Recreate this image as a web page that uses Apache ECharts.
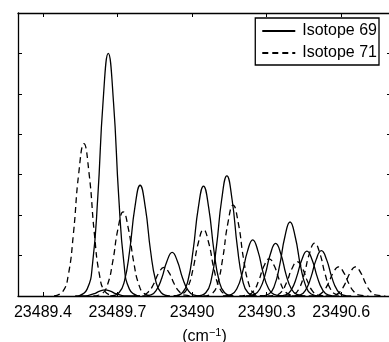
<!DOCTYPE html>
<html>
<head>
<meta charset="utf-8">
<script src="https://cdn.jsdelivr.net/npm/echarts@6.0.0/dist/echarts.min.js"></script>
<style>
  html, body { margin: 0; padding: 0; background: #fff; }
  #chart { width: 389px; height: 342px; }
</style>
</head>
<body>
<div id="chart"></div>
<script>
// tick labels on the wavenumber axis
var xTicks = [23489.4, 23489.7, 23490, 23490.3, 23490.6];

// each line is sampled at these offsets (cm^-1) from its centre
var sampleOffsets = [-0.12, -0.085, -0.063, -0.042, -0.021, 0, 0.021, 0.042, 0.063, 0.085, 0.12];

// Isotope 69 lines: centre and sampled heights
var centers69 = [23489.650, 23489.663, 23489.791, 23489.920, 23490.046, 23490.140,
                 23490.244, 23490.336, 23490.394, 23490.462, 23490.520];
var peaks69 = [
    [0, 0, 0.02, 0.06, 0.12, 0.15, 0.12, 0.06, 0.02, 0, 0],
    [0, 0.17, 0.81, 2.46, 4.8, 6.0, 4.8, 2.46, 0.81, 0.17, 0],
    [0, 0.08, 0.37, 1.12, 2.19, 2.74, 2.19, 1.12, 0.37, 0.08, 0],
    [0, 0.03, 0.15, 0.44, 0.86, 1.08, 0.86, 0.44, 0.15, 0.03, 0],
    [0, 0.08, 0.37, 1.12, 2.18, 2.72, 2.18, 1.12, 0.37, 0.08, 0],
    [0, 0.08, 0.4, 1.22, 2.38, 2.97, 2.38, 1.22, 0.4, 0.08, 0],
    [0, 0.04, 0.19, 0.57, 1.11, 1.39, 1.11, 0.57, 0.19, 0.04, 0],
    [0, 0.04, 0.18, 0.53, 1.04, 1.30, 1.04, 0.53, 0.18, 0.04, 0],
    [0, 0.05, 0.25, 0.75, 1.46, 1.83, 1.46, 0.75, 0.25, 0.05, 0],
    [0, 0.03, 0.15, 0.46, 0.89, 1.11, 0.89, 0.46, 0.15, 0.03, 0],
    [0, 0.03, 0.15, 0.46, 0.9, 1.12, 0.9, 0.46, 0.15, 0.03, 0]
];

// Isotope 71 lines
var centers71 = [23489.565, 23489.723, 23489.887, 23490.046, 23490.165,
                 23490.310, 23490.423, 23490.493, 23490.589, 23490.657];
var peaks71 = [
    [0, 0.11, 0.51, 1.55, 3.02, 3.77, 3.02, 1.55, 0.51, 0.11, 0],
    [0, 0.06, 0.28, 0.85, 1.66, 2.08, 1.66, 0.85, 0.28, 0.06, 0],
    [0, 0.02, 0.1, 0.29, 0.57, 0.71, 0.57, 0.29, 0.1, 0.02, 0],
    [0, 0.05, 0.22, 0.67, 1.31, 1.64, 1.31, 0.67, 0.22, 0.05, 0],
    [0, 0.06, 0.3, 0.92, 1.8, 2.25, 1.8, 0.92, 0.3, 0.06, 0],
    [0, 0.03, 0.12, 0.38, 0.74, 0.92, 0.74, 0.38, 0.12, 0.03, 0],
    [0, 0.02, 0.11, 0.35, 0.68, 0.85, 0.68, 0.35, 0.11, 0.02, 0],
    [0, 0.04, 0.18, 0.54, 1.05, 1.31, 1.05, 0.54, 0.18, 0.04, 0],
    [0, 0.02, 0.1, 0.3, 0.58, 0.72, 0.58, 0.3, 0.1, 0.02, 0],
    [0, 0.02, 0.1, 0.3, 0.58, 0.72, 0.58, 0.3, 0.1, 0.02, 0]
];

var FONT = 'Liberation Sans, Arial, Helvetica, sans-serif';

function lineSeries(name, center, heights, dash) {
    var pts = [];
    for (var i = 0; i < sampleOffsets.length; i++) {
        pts.push([center + sampleOffsets[i], heights[i]]);
    }
    return {
        name: name,
        type: 'line',
        smooth: true,
        symbol: 'none',
        silent: true,
        lineStyle: { color: '#000', width: 1.3, type: dash ? [6, 4] : 'solid' },
        itemStyle: { color: '#000' },
        data: pts
    };
}

var series = [];
for (var i = 0; i < centers69.length; i++) {
    series.push(lineSeries('Isotope 69', centers69[i], peaks69[i], false));
}
for (var j = 0; j < centers71.length; j++) {
    series.push(lineSeries('Isotope 71', centers71[j], peaks71[j], true));
}

var axisLine = { show: true, onZero: false, lineStyle: { color: '#000', width: 1.3 } };
var tickIn = { show: true, inside: true, length: 4, lineStyle: { color: '#000', width: 1 } };

var chart = echarts.init(document.getElementById('chart'));
chart.setOption({
    animation: false,
    backgroundColor: '#fff',
    grid: { left: 18, right: -2, top: 13, bottom: 46, outerBoundsMode: 'none', containLabel: false },
    legend: {
        data: ['Isotope 69', 'Isotope 71'],
        orient: 'vertical',
        right: 10,
        top: 18,
        padding: [4, 2, 3, 6],
        itemGap: 4,
        itemWidth: 33,
        itemHeight: 14,
        borderColor: '#000',
        borderWidth: 1.3,
        borderRadius: 0,
        backgroundColor: '#fff',
        selectedMode: false,
        itemStyle: { opacity: 0 },
        textStyle: { fontFamily: FONT, fontSize: 16, color: '#000', padding: [0, 0, 0, 2], lineHeight: 18 }
    },
    xAxis: [
        {
            type: 'value',
            min: 23489.3,
            max: 23490.8,
            position: 'bottom',
            name: '{a|(cm}{b|−1}{a|)}',
            nameLocation: 'middle',
            nameGap: 31,
            nameTextStyle: {
                rich: {
                    a: { fontFamily: FONT, fontSize: 16, color: '#000' },
                    b: { fontFamily: FONT, fontSize: 11, color: '#000', padding: [0, 0, 9, 0] }
                }
            },
            axisLine: axisLine,
            axisTick: { show: true, inside: true, length: 4, customValues: xTicks, lineStyle: { color: '#000' } },
            axisLabel: {
                customValues: xTicks,
                fontFamily: FONT, fontSize: 16, color: '#000', margin: 9,
                formatter: function (v) { return String(v); }
            },
            splitLine: { show: false }
        },
        {
            type: 'value',
            min: 23489.3,
            max: 23490.8,
            position: 'top',
            axisLine: axisLine,
            axisTick: { show: true, inside: true, length: 4, customValues: xTicks, lineStyle: { color: '#000' } },
            axisLabel: { show: false },
            splitLine: { show: false }
        }
    ],
    yAxis: [
        {
            type: 'value',
            min: 0,
            max: 7,
            interval: 1,
            position: 'left',
            axisLine: axisLine,
            axisTick: tickIn,
            axisLabel: { show: false },
            splitLine: { show: false }
        },
        {
            type: 'value',
            min: 0,
            max: 7,
            interval: 1,
            position: 'right',
            axisLine: axisLine,
            axisTick: tickIn,
            axisLabel: { show: false },
            splitLine: { show: false }
        }
    ],
    series: series
});
</script>
</body>
</html>
